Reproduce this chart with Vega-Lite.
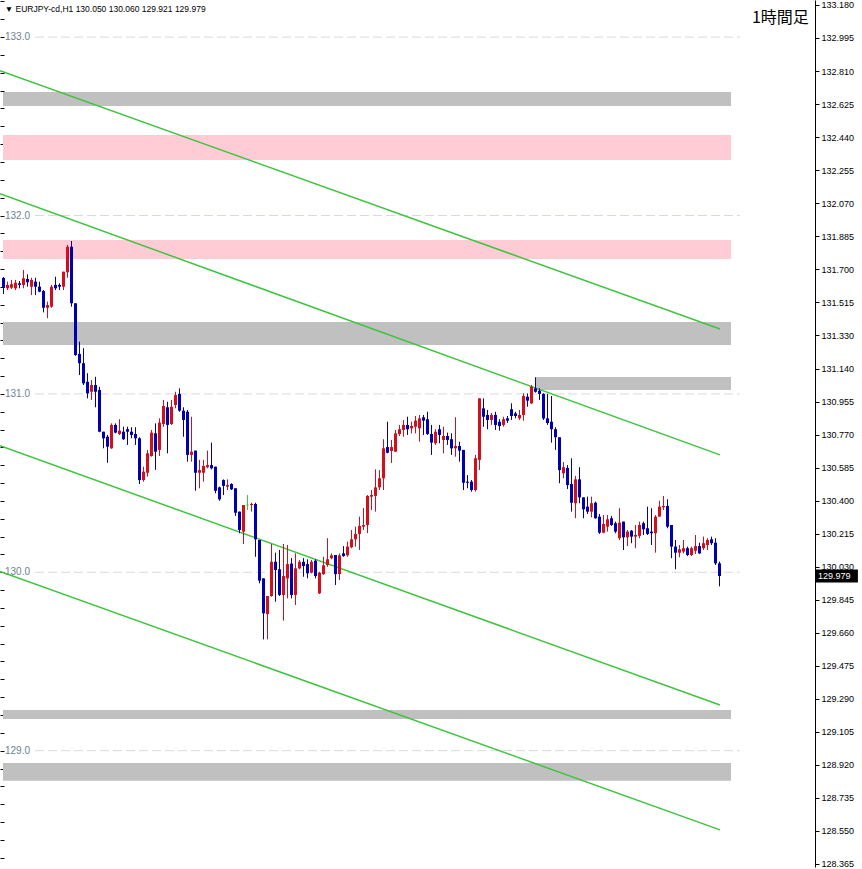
{
"$schema":"https://vega.github.io/schema/vega-lite/v6.json",
"width":815,"height":867,
"autosize":{"type":"none"},
"padding":{"left":0,"top":0,"right":47,"bottom":2},
"background":"white",
"config":{"view":{"stroke":null},"font":"Liberation Sans","scale":{"continuousPadding":0}},
"resolve":{"axis":{"y":"independent"}},
"datasets":{
"candles":[
{"i":0,"o":131.650,"h":131.655,"l":131.560,"c":131.594},
{"i":1,"o":131.592,"h":131.629,"l":131.582,"c":131.611},
{"i":2,"o":131.595,"h":131.639,"l":131.588,"c":131.615},
{"i":3,"o":131.592,"h":131.639,"l":131.582,"c":131.623},
{"i":4,"o":131.620,"h":131.633,"l":131.592,"c":131.611},
{"i":5,"o":131.611,"h":131.695,"l":131.592,"c":131.648},
{"i":6,"o":131.644,"h":131.670,"l":131.601,"c":131.626},
{"i":7,"o":131.601,"h":131.651,"l":131.554,"c":131.639},
{"i":8,"o":131.629,"h":131.651,"l":131.554,"c":131.601},
{"i":9,"o":131.601,"h":131.629,"l":131.570,"c":131.573},
{"i":10,"o":131.577,"h":131.582,"l":131.457,"c":131.483},
{"i":11,"o":131.483,"h":131.517,"l":131.424,"c":131.498},
{"i":12,"o":131.489,"h":131.611,"l":131.483,"c":131.601},
{"i":13,"o":131.611,"h":131.657,"l":131.582,"c":131.592},
{"i":14,"o":131.611,"h":131.620,"l":131.582,"c":131.601},
{"i":15,"o":131.601,"h":131.685,"l":131.582,"c":131.685},
{"i":16,"o":131.682,"h":131.835,"l":131.651,"c":131.825},
{"i":17,"o":131.825,"h":131.857,"l":131.489,"c":131.508},
{"i":18,"o":131.508,"h":131.508,"l":131.213,"c":131.218},
{"i":19,"o":131.224,"h":131.293,"l":131.106,"c":131.172},
{"i":20,"o":131.172,"h":131.256,"l":131.050,"c":131.059},
{"i":21,"o":131.068,"h":131.116,"l":130.975,"c":131.003},
{"i":22,"o":131.012,"h":131.078,"l":130.966,"c":131.050},
{"i":23,"o":131.050,"h":131.096,"l":130.925,"c":131.012},
{"i":24,"o":131.022,"h":131.040,"l":130.785,"c":130.788},
{"i":25,"o":130.788,"h":130.788,"l":130.695,"c":130.751},
{"i":26,"o":130.760,"h":130.770,"l":130.614,"c":130.704},
{"i":27,"o":130.695,"h":130.835,"l":130.692,"c":130.826},
{"i":28,"o":130.826,"h":130.835,"l":130.779,"c":130.783},
{"i":29,"o":130.775,"h":130.858,"l":130.770,"c":130.794},
{"i":30,"o":130.788,"h":130.816,"l":130.742,"c":130.746},
{"i":31,"o":130.802,"h":130.816,"l":130.714,"c":130.788},
{"i":32,"o":130.788,"h":130.813,"l":130.751,"c":130.770},
{"i":33,"o":130.775,"h":130.813,"l":130.714,"c":130.751},
{"i":34,"o":130.751,"h":130.757,"l":130.495,"c":130.517},
{"i":35,"o":130.517,"h":130.592,"l":130.508,"c":130.564},
{"i":36,"o":130.558,"h":130.686,"l":130.536,"c":130.667},
{"i":37,"o":130.652,"h":130.798,"l":130.648,"c":130.783},
{"i":38,"o":130.779,"h":130.835,"l":130.574,"c":130.676},
{"i":39,"o":130.686,"h":130.863,"l":130.652,"c":130.839},
{"i":40,"o":130.831,"h":130.966,"l":130.816,"c":130.932},
{"i":41,"o":130.925,"h":130.956,"l":130.667,"c":130.826},
{"i":42,"o":130.831,"h":130.966,"l":130.826,"c":130.928},
{"i":43,"o":130.938,"h":131.012,"l":130.919,"c":130.994},
{"i":44,"o":131.000,"h":131.031,"l":130.900,"c":130.906},
{"i":45,"o":130.906,"h":130.925,"l":130.760,"c":130.854},
{"i":46,"o":130.900,"h":130.910,"l":130.620,"c":130.658},
{"i":47,"o":130.658,"h":130.872,"l":130.620,"c":130.676},
{"i":48,"o":130.682,"h":130.682,"l":130.457,"c":130.558},
{"i":49,"o":130.558,"h":130.630,"l":130.471,"c":130.573},
{"i":50,"o":130.558,"h":130.630,"l":130.508,"c":130.596},
{"i":51,"o":130.589,"h":130.682,"l":130.583,"c":130.601},
{"i":52,"o":130.601,"h":130.727,"l":130.577,"c":130.583},
{"i":53,"o":130.592,"h":130.592,"l":130.443,"c":130.457},
{"i":54,"o":130.476,"h":130.480,"l":130.401,"c":130.409},
{"i":55,"o":130.517,"h":130.521,"l":130.433,"c":130.484},
{"i":56,"o":130.480,"h":130.521,"l":130.461,"c":130.489},
{"i":57,"o":130.495,"h":130.499,"l":130.461,"c":130.465},
{"i":58,"o":130.471,"h":130.471,"l":130.316,"c":130.334},
{"i":59,"o":130.340,"h":130.340,"l":130.219,"c":130.237},
{"i":60,"o":130.228,"h":130.377,"l":130.159,"c":130.377},
{"i":61,"o":130.377,"h":130.433,"l":130.349,"c":130.377},
{"i":62,"o":130.377,"h":130.390,"l":130.340,"c":130.383},
{"i":63,"o":130.383,"h":130.390,"l":130.087,"c":130.185},
{"i":64,"o":130.181,"h":130.181,"l":129.938,"c":129.953},
{"i":65,"o":129.966,"h":129.966,"l":129.624,"c":129.770},
{"i":66,"o":129.766,"h":129.867,"l":129.624,"c":129.867},
{"i":67,"o":129.867,"h":130.159,"l":129.863,"c":130.059},
{"i":68,"o":130.059,"h":130.110,"l":129.835,"c":130.013},
{"i":69,"o":130.017,"h":130.125,"l":129.867,"c":129.873},
{"i":70,"o":129.873,"h":130.159,"l":129.729,"c":129.979},
{"i":71,"o":129.966,"h":130.153,"l":129.854,"c":130.046},
{"i":72,"o":130.049,"h":130.080,"l":129.854,"c":129.873},
{"i":73,"o":129.873,"h":130.106,"l":129.817,"c":130.022},
{"i":74,"o":130.022,"h":130.069,"l":130.017,"c":130.059},
{"i":75,"o":130.059,"h":130.079,"l":129.975,"c":130.035},
{"i":76,"o":130.046,"h":130.073,"l":129.966,"c":129.994},
{"i":77,"o":129.998,"h":130.069,"l":129.994,"c":130.059},
{"i":78,"o":130.065,"h":130.073,"l":129.966,"c":129.979},
{"i":79,"o":129.882,"h":130.003,"l":129.878,"c":129.998},
{"i":80,"o":129.990,"h":130.087,"l":129.985,"c":130.039},
{"i":81,"o":130.041,"h":130.191,"l":130.031,"c":130.073},
{"i":82,"o":130.079,"h":130.106,"l":130.073,"c":130.095},
{"i":83,"o":130.097,"h":130.097,"l":129.929,"c":129.990},
{"i":84,"o":129.990,"h":130.106,"l":129.957,"c":130.095},
{"i":85,"o":130.106,"h":130.147,"l":130.087,"c":130.091},
{"i":86,"o":130.095,"h":130.172,"l":130.087,"c":130.144},
{"i":87,"o":130.140,"h":130.237,"l":130.135,"c":130.185},
{"i":88,"o":130.185,"h":130.256,"l":130.144,"c":130.215},
{"i":89,"o":130.215,"h":130.312,"l":130.125,"c":130.260},
{"i":90,"o":130.256,"h":130.360,"l":130.237,"c":130.265},
{"i":91,"o":130.265,"h":130.433,"l":130.219,"c":130.428},
{"i":92,"o":130.424,"h":130.461,"l":130.349,"c":130.433},
{"i":93,"o":130.428,"h":130.577,"l":130.340,"c":130.476},
{"i":94,"o":130.476,"h":130.573,"l":130.461,"c":130.527},
{"i":95,"o":130.527,"h":130.746,"l":130.461,"c":130.695},
{"i":96,"o":130.702,"h":130.844,"l":130.667,"c":130.670},
{"i":97,"o":130.680,"h":130.742,"l":130.613,"c":130.702},
{"i":98,"o":130.676,"h":130.798,"l":130.674,"c":130.779},
{"i":99,"o":130.775,"h":130.826,"l":130.764,"c":130.802},
{"i":100,"o":130.798,"h":130.854,"l":130.760,"c":130.826},
{"i":101,"o":130.826,"h":130.872,"l":130.770,"c":130.802},
{"i":102,"o":130.807,"h":130.844,"l":130.779,"c":130.820},
{"i":103,"o":130.816,"h":130.876,"l":130.779,"c":130.850},
{"i":104,"o":130.807,"h":130.882,"l":130.732,"c":130.863},
{"i":105,"o":130.869,"h":130.882,"l":130.770,"c":130.850},
{"i":106,"o":130.858,"h":130.900,"l":130.770,"c":130.775},
{"i":107,"o":130.775,"h":130.826,"l":130.658,"c":130.727},
{"i":108,"o":130.723,"h":130.802,"l":130.714,"c":130.788},
{"i":109,"o":130.802,"h":130.826,"l":130.723,"c":130.770},
{"i":110,"o":130.742,"h":130.816,"l":130.667,"c":130.764},
{"i":111,"o":130.764,"h":130.783,"l":130.714,"c":130.742},
{"i":112,"o":130.746,"h":130.779,"l":130.658,"c":130.695},
{"i":113,"o":130.695,"h":130.869,"l":130.648,"c":130.708},
{"i":114,"o":130.708,"h":130.732,"l":130.620,"c":130.682},
{"i":115,"o":130.686,"h":130.686,"l":130.461,"c":130.502},
{"i":116,"o":130.508,"h":130.545,"l":130.471,"c":130.502},
{"i":117,"o":130.508,"h":130.517,"l":130.452,"c":130.461},
{"i":118,"o":130.461,"h":130.658,"l":130.452,"c":130.639},
{"i":119,"o":130.630,"h":130.975,"l":130.573,"c":130.975},
{"i":120,"o":130.919,"h":130.975,"l":130.816,"c":130.872},
{"i":121,"o":130.882,"h":130.910,"l":130.802,"c":130.854},
{"i":122,"o":130.854,"h":130.893,"l":130.826,"c":130.882},
{"i":123,"o":130.882,"h":130.900,"l":130.798,"c":130.826},
{"i":124,"o":130.844,"h":130.858,"l":130.794,"c":130.820},
{"i":125,"o":130.826,"h":130.872,"l":130.816,"c":130.858},
{"i":126,"o":130.863,"h":130.876,"l":130.837,"c":130.850},
{"i":127,"o":130.914,"h":130.947,"l":130.854,"c":130.876},
{"i":128,"o":130.891,"h":130.900,"l":130.863,"c":130.876},
{"i":129,"o":130.863,"h":130.910,"l":130.854,"c":130.882},
{"i":130,"o":130.882,"h":131.003,"l":130.850,"c":130.988},
{"i":131,"o":130.984,"h":131.003,"l":130.928,"c":130.962},
{"i":132,"o":130.947,"h":131.050,"l":130.943,"c":131.040},
{"i":133,"o":131.031,"h":131.093,"l":131.007,"c":131.012},
{"i":134,"o":131.018,"h":131.031,"l":130.966,"c":131.000},
{"i":135,"o":131.000,"h":131.003,"l":130.854,"c":130.862},
{"i":136,"o":130.863,"h":131.000,"l":130.826,"c":130.837},
{"i":137,"o":130.844,"h":130.988,"l":130.727,"c":130.802},
{"i":138,"o":130.802,"h":130.813,"l":130.686,"c":130.757},
{"i":139,"o":130.757,"h":130.757,"l":130.499,"c":130.573},
{"i":140,"o":130.555,"h":130.618,"l":130.527,"c":130.589},
{"i":141,"o":130.585,"h":130.601,"l":130.467,"c":130.489},
{"i":142,"o":130.495,"h":130.639,"l":130.340,"c":130.390},
{"i":143,"o":130.387,"h":130.540,"l":130.303,"c":130.521},
{"i":144,"o":130.521,"h":130.589,"l":130.387,"c":130.420},
{"i":145,"o":130.420,"h":130.420,"l":130.303,"c":130.353},
{"i":146,"o":130.368,"h":130.424,"l":130.327,"c":130.340},
{"i":147,"o":130.340,"h":130.424,"l":130.308,"c":130.387},
{"i":148,"o":130.390,"h":130.396,"l":130.300,"c":130.303},
{"i":149,"o":130.312,"h":130.327,"l":130.215,"c":130.222},
{"i":150,"o":130.222,"h":130.321,"l":130.219,"c":130.271},
{"i":151,"o":130.256,"h":130.321,"l":130.228,"c":130.297},
{"i":152,"o":130.303,"h":130.316,"l":130.260,"c":130.265},
{"i":153,"o":130.275,"h":130.284,"l":130.219,"c":130.228},
{"i":154,"o":130.191,"h":130.359,"l":130.181,"c":130.278},
{"i":155,"o":130.284,"h":130.284,"l":130.125,"c":130.196},
{"i":156,"o":130.196,"h":130.237,"l":130.147,"c":130.228},
{"i":157,"o":130.233,"h":130.237,"l":130.163,"c":130.200},
{"i":158,"o":130.200,"h":130.265,"l":130.135,"c":130.209},
{"i":159,"o":130.204,"h":130.284,"l":130.191,"c":130.265},
{"i":160,"o":130.275,"h":130.284,"l":130.209,"c":130.241},
{"i":161,"o":130.247,"h":130.368,"l":130.209,"c":130.215},
{"i":162,"o":130.228,"h":130.359,"l":130.153,"c":130.219},
{"i":163,"o":130.219,"h":130.321,"l":130.110,"c":130.312},
{"i":164,"o":130.312,"h":130.401,"l":130.312,"c":130.368},
{"i":165,"o":130.364,"h":130.428,"l":130.349,"c":130.372},
{"i":166,"o":130.372,"h":130.409,"l":130.247,"c":130.256},
{"i":167,"o":130.265,"h":130.265,"l":130.079,"c":130.144},
{"i":168,"o":130.144,"h":130.181,"l":130.017,"c":130.110},
{"i":169,"o":130.110,"h":130.153,"l":130.084,"c":130.129},
{"i":170,"o":130.116,"h":130.181,"l":130.106,"c":130.135},
{"i":171,"o":130.135,"h":130.144,"l":130.091,"c":130.097},
{"i":172,"o":130.097,"h":130.144,"l":130.091,"c":130.135},
{"i":173,"o":130.121,"h":130.209,"l":130.103,"c":130.147},
{"i":174,"o":130.147,"h":130.166,"l":130.103,"c":130.106},
{"i":175,"o":130.135,"h":130.200,"l":130.125,"c":130.163},
{"i":176,"o":130.153,"h":130.191,"l":130.125,"c":130.181},
{"i":177,"o":130.185,"h":130.200,"l":130.153,"c":130.163},
{"i":178,"o":130.166,"h":130.191,"l":130.041,"c":130.050},
{"i":179,"o":130.050,"h":130.060,"l":129.921,"c":129.979}
],
"zones":[
{"x0":-0.125,"x1":181.875,"p0":132.692,"p1":132.614,"k":"gray"},
{"x0":-0.125,"x1":181.875,"p0":132.451,"p1":132.311,"k":"pink"},
{"x0":-0.125,"x1":181.875,"p0":131.863,"p1":131.756,"k":"pink"},
{"x0":-0.125,"x1":181.875,"p0":131.403,"p1":131.274,"k":"gray"},
{"x0":132.875,"x1":181.875,"p0":131.095,"p1":131.022,"k":"gray"},
{"x0":-0.125,"x1":181.875,"p0":129.228,"p1":129.178,"k":"gray"},
{"x0":-0.125,"x1":181.875,"p0":128.931,"p1":128.832,"k":"gray"}
],
"lines":[
{"ln":"A","i":-0.875,"p":132.812},{"ln":"A","i":179.125,"p":131.364},
{"ln":"B","i":-0.875,"p":132.122},{"ln":"B","i":179.125,"p":130.658},
{"ln":"C","i":-0.875,"p":130.709},{"ln":"C","i":179.125,"p":129.256},
{"ln":"D","i":-0.875,"p":130.005},{"ln":"D","i":179.125,"p":128.556}
],
"levels":[{"lvl":133},{"lvl":132},{"lvl":131},{"lvl":130},{"lvl":129}],
"last":[{"p":129.979}]
},
"layer":[
{"data":{"name":"zones"},"mark":{"type":"rect"},
 "encoding":{
  "x":{"field":"x0","type":"quantitative","scale":{"domain":[-0.875,202.875],"nice":false,"zero":false,"padding":0},
       "axis":{"orient":"bottom","labels":false,"ticks":false,"grid":false,"title":null,"domain":true,"domainColor":"#000000","domainWidth":1}},
  "x2":{"field":"x1"},
  "y":{"field":"p0","type":"quantitative","scale":{"domain":[128.348,133.208],"nice":false,"zero":false},
       "axis":{"orient":"left","values":[128.4,128.5,128.6,128.7,128.8,128.9,129.0,129.1,129.2,129.3,129.4,129.5,129.6,129.7,129.8,129.9,130.0,130.1,130.2,130.3,130.4,130.5,130.6,130.7,130.8,130.9,131.0,131.1,131.2,131.3,131.4,131.5,131.6,131.7,131.8,131.9,132.0,132.1,132.2,132.3,132.4,132.5,132.6,132.7,132.8,132.9,133.0,133.1,133.2],"labels":false,"domain":false,"grid":false,"title":null,"ticks":true,"tickSize":-4,"tickColor":"#000000","tickWidth":1}},
  "y2":{"field":"p1"},
  "color":{"field":"k","type":"nominal","scale":{"domain":["gray","pink"],"range":["#c0c0c0","#ffccd5"]},"legend":null}
 }},
{"data":{"name":"levels"},"mark":{"type":"rule","stroke":"#d9d9e2","strokeWidth":1,"strokeDash":[9,4]},
 "encoding":{
  "x":{"datum":7.875,"type":"quantitative","scale":{"domain":[-0.875,202.875],"nice":false,"zero":false,"padding":0},"axis":null},
  "x2":{"datum":184.1},
  "y":{"field":"lvl","type":"quantitative","scale":{"domain":[128.348,133.208],"nice":false,"zero":false},"axis":null}
 }},
{"data":{"name":"levels"},"mark":{"type":"text","align":"left","baseline":"middle","fontSize":10,"font":"Liberation Sans","fill":"#6f7f8f"},
 "encoding":{
  "x":{"datum":0.375,"type":"quantitative","scale":{"domain":[-0.875,202.875],"nice":false,"zero":false,"padding":0},"axis":null},
  "y":{"field":"lvl","type":"quantitative","scale":{"domain":[128.348,133.208],"nice":false,"zero":false},"axis":null},
  "text":{"field":"lvl","type":"quantitative","format":".1f"}
 }},
{"data":{"name":"lines"},"mark":{"type":"line","stroke":"#3ec43e","strokeWidth":1.5},
 "encoding":{
  "x":{"field":"i","type":"quantitative","scale":{"domain":[-0.875,202.875],"nice":false,"zero":false,"padding":0},"axis":null},
  "y":{"field":"p","type":"quantitative","scale":{"domain":[128.348,133.208],"nice":false,"zero":false},"axis":null},
  "detail":{"field":"ln","type":"nominal"}
 }},
{"data":{"name":"candles"},"mark":{"type":"rule","strokeWidth":1},
 "encoding":{
  "x":{"field":"i","type":"quantitative","scale":{"domain":[-0.875,202.875],"nice":false,"zero":false,"padding":0},"axis":null},
  "y":{"field":"l","type":"quantitative","scale":{"domain":[128.348,133.208],"nice":false,"zero":false},
       "axis":{"orient":"right","values":[133.18,132.995,132.81,132.625,132.44,132.255,132.07,131.885,131.7,131.515,131.33,131.14,130.955,130.77,130.585,130.4,130.215,130.03,129.845,129.66,129.475,129.29,129.105,128.92,128.735,128.55,128.365],"format":".3f","title":null,"grid":false,"domainColor":"#000000","domainWidth":1,"tickColor":"#000000","tickSize":4,"tickWidth":1,"labelPadding":2,"labelFont":"Liberation Sans","labelFontSize":9,"labelColor":"#000000","labelFlush":false,"labelOverlap":false,"labelBound":false}},
  "y2":{"field":"h"},
  "color":{"condition":[{"test":"datum.c > datum.o","value":"#d0101c"},{"test":"datum.c < datum.o","value":"#0000b0"}],"value":"#32cd32"}
 }},
{"data":{"name":"candles"},"mark":{"type":"bar","size":3},
 "encoding":{
  "x":{"field":"i","type":"quantitative","scale":{"domain":[-0.875,202.875],"nice":false,"zero":false,"padding":0},"axis":null},
  "y":{"field":"o","type":"quantitative","scale":{"domain":[128.348,133.208],"nice":false,"zero":false},"axis":null},
  "y2":{"field":"c"},
  "color":{"condition":[{"test":"datum.c > datum.o","value":"#d0101c"},{"test":"datum.c < datum.o","value":"#0000b0"}],"value":"#32cd32"}
 }},
{"data":{"name":"candles"},"transform":[{"filter":"datum.c == datum.o"}],"mark":{"type":"tick","orient":"horizontal","size":3,"thickness":1,"color":"#32cd32"},
 "encoding":{
  "x":{"field":"i","type":"quantitative","scale":{"domain":[-0.875,202.875],"nice":false,"zero":false,"padding":0},"axis":null},
  "y":{"field":"c","type":"quantitative","scale":{"domain":[128.348,133.208],"nice":false,"zero":false},"axis":null}
 }},
{"data":{"values":[{}]},"mark":{"type":"text","text":"▼ EURJPY-cd,H1  130.050 130.060 129.921 129.979","align":"left","baseline":"middle","fontSize":8.5,"font":"Liberation Sans","fill":"#000000"},
 "encoding":{
  "x":{"datum":0.3,"type":"quantitative","scale":{"domain":[-0.875,202.875],"nice":false,"zero":false,"padding":0},"axis":null},
  "y":{"datum":133.158,"type":"quantitative","scale":{"domain":[128.348,133.208],"nice":false,"zero":false},"axis":null}
 }},
{"data":{"values":[{}]},"mark":{"type":"text","text":"1時間足","align":"left","baseline":"middle","fontSize":16,"font":"Noto Sans CJK JP","fill":"#000000"},
 "encoding":{
  "x":{"datum":187.1,"type":"quantitative","scale":{"domain":[-0.875,202.875],"nice":false,"zero":false,"padding":0},"axis":null},
  "y":{"datum":133.107,"type":"quantitative","scale":{"domain":[128.348,133.208],"nice":false,"zero":false},"axis":null}
 }},
{"data":{"name":"last"},"mark":{"type":"rect","fill":"#000000"},
 "encoding":{
  "x":{"datum":203.1,"type":"quantitative","scale":{"domain":[-0.875,202.875],"nice":false,"zero":false,"padding":0},"axis":null},
  "x2":{"datum":213.6},
  "y":{"datum":130.015,"type":"quantitative","scale":{"domain":[128.348,133.208],"nice":false,"zero":false},"axis":null},
  "y2":{"datum":129.943}
 }},
{"data":{"name":"last"},"mark":{"type":"text","align":"left","baseline":"middle","fontSize":9,"font":"Liberation Sans","fill":"#ffffff"},
 "encoding":{
  "x":{"datum":203.6,"type":"quantitative","scale":{"domain":[-0.875,202.875],"nice":false,"zero":false,"padding":0},"axis":null},
  "y":{"field":"p","type":"quantitative","scale":{"domain":[128.348,133.208],"nice":false,"zero":false},"axis":null},
  "text":{"field":"p","type":"quantitative","format":".3f"}
 }}
]
}
